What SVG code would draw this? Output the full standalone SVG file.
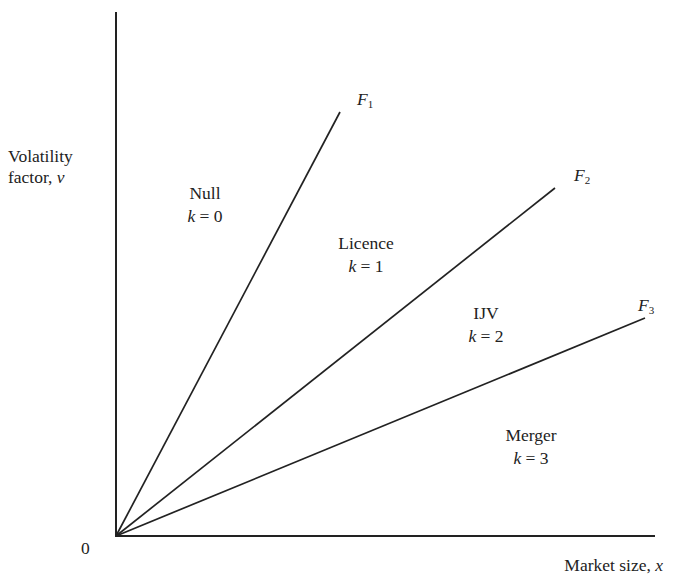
<svg xmlns="http://www.w3.org/2000/svg" width="677" height="578" viewBox="0 0 677 578">
<style>
.t{font-family:"Liberation Serif","Times New Roman",serif;font-size:17.5px;fill:#222}
.i{font-style:italic}
.s{font-size:11px}
.ax{stroke:#222;stroke-width:2;fill:none}
.ln{stroke:#222;stroke-width:1.7;fill:none}
</style>
<rect width="677" height="578" fill="#fff"/>
<g id="axes">
<line class="ax" x1="116" y1="12" x2="116" y2="537"/>
<line class="ax" x1="115" y1="536" x2="655" y2="536"/>
</g>
<g id="connectors">
<line class="ln" x1="116" y1="536" x2="340" y2="112"/>
<line class="ln" x1="116" y1="536" x2="555" y2="188"/>
<line class="ln" x1="116" y1="536" x2="645" y2="318"/>
</g>
<g id="axis-labels">
<text class="t" x="8" y="162">Volatility</text>
<text class="t" x="8" y="183">factor, <tspan class="i">v</tspan></text>
<text class="t" x="81" y="554">0</text>
<text class="t" x="663" y="571" text-anchor="end">Market size, <tspan class="i">x</tspan></text>
</g>
<g id="F1"><text class="t" x="357" y="105"><tspan class="i">F</tspan><tspan class="s" dy="3">1</tspan></text></g>
<g id="F2"><text class="t" x="574" y="181"><tspan class="i">F</tspan><tspan class="s" dy="3">2</tspan></text></g>
<g id="F3"><text class="t" x="638" y="311"><tspan class="i">F</tspan><tspan class="s" dy="3">3</tspan></text></g>
<g id="null"><text class="t" x="205" y="199" text-anchor="middle">Null</text><text class="t" x="205" y="222" text-anchor="middle"><tspan class="i">k</tspan> = 0</text></g>
<g id="licence"><text class="t" x="366" y="249" text-anchor="middle">Licence</text><text class="t" x="366" y="272" text-anchor="middle"><tspan class="i">k</tspan> = 1</text></g>
<g id="ijv"><text class="t" x="486" y="319" text-anchor="middle">IJV</text><text class="t" x="486" y="342" text-anchor="middle"><tspan class="i">k</tspan> = 2</text></g>
<g id="merger"><text class="t" x="531" y="441" text-anchor="middle">Merger</text><text class="t" x="531" y="464" text-anchor="middle"><tspan class="i">k</tspan> = 3</text></g>
</svg>
